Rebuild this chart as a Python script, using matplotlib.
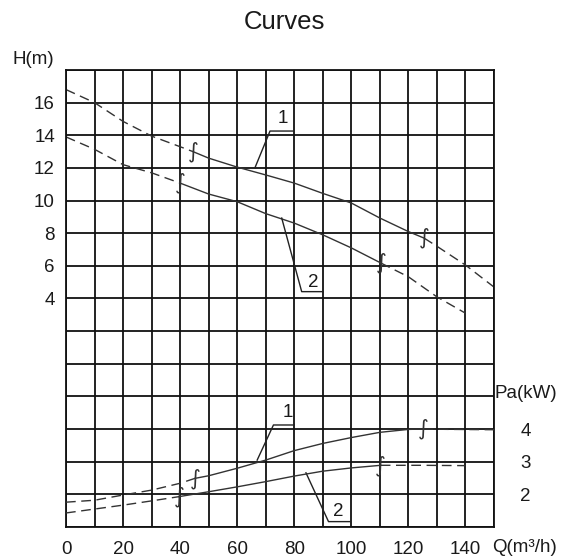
import matplotlib
matplotlib.use("Agg")
import matplotlib.pyplot as plt
import numpy as np

plt.rcParams['font.family'] = ['Liberation Sans', 'DejaVu Sans']

# ---------------- data ----------------
q_h1 = [0, 10, 20, 30, 40, 44.5, 50, 60, 70, 80, 90, 100, 110, 120, 125.5, 130, 140, 150]
h1 = [16.8, 16.0, 14.85, 13.95, 13.3, 13.0, 12.6, 12.05, 11.57, 11.07, 10.44, 9.85, 8.93, 8.1, 7.7, 7.2, 6.05, 4.7]
h1_solid = (44.5, 125.5)

q_h2 = [0, 10, 20, 30, 40, 50, 60, 70, 80, 90, 100, 110.4, 120, 130, 140]
h2 = [13.9, 13.14, 12.2, 11.7, 11.07, 10.4, 9.93, 9.2, 8.62, 7.9, 7.1, 6.17, 5.33, 4.1, 3.1]
h2_solid = (40, 110.4)

q_p1 = [0, 10, 20, 30, 40, 45.2, 50, 60, 70, 80, 90, 100, 110, 120, 125.3, 135, 150]
p1 = [1.76, 1.82, 1.98, 2.13, 2.34, 2.49, 2.57, 2.80, 3.05, 3.34, 3.56, 3.74, 3.9, 3.99, 4.0, 3.99, 3.98]
p1_solid = (45.2, 125.3)

q_p2 = [0, 10, 20, 30, 39.6, 50, 60, 70, 80, 90, 100, 110.3, 125, 140]
p2 = [1.43, 1.55, 1.67, 1.80, 1.93, 2.08, 2.23, 2.39, 2.56, 2.71, 2.81, 2.89, 2.89, 2.88]
p2_solid = (39.6, 110.3)

x_ticks = [0, 20, 40, 60, 80, 100, 120, 140]
h_ticks = [4, 6, 8, 10, 12, 14, 16]
p_ticks = [2, 3, 4]

# ---------------- figure ----------------
fig = plt.figure(figsize=(5.66, 5.59), dpi=100)
ax = fig.add_axes([66/566, 1-527/559, (494-66)/566, (527-70)/559])
ax.set_xlim(0, 150)
ax.set_ylim(-10, 18)

ax.set_xticks(range(0, 151, 10))
ax.set_xticklabels([str(v) if v in x_ticks else '' for v in range(0, 151, 10)])
ax.set_yticks(range(-10, 19, 2))
ax.set_yticklabels([str(v) if v in h_ticks else '' for v in range(-10, 19, 2)])
ax.tick_params(length=0, labelsize=13.5, colors='#1a1a1a')
ax.tick_params(axis='x', pad=10)
ax.tick_params(axis='y', pad=8)
ax.grid(True, color='#111111', lw=1.3)
for s in ax.spines.values():
    s.set_color('#111111')
    s.set_linewidth(1.3)
ax.set_axisbelow(True)

ax2 = ax.twinx()
ax2.set_ylim(1, 15)
ax2.set_yticks(p_ticks)
ax2.set_yticklabels([str(v) for v in p_ticks])
ax2.tick_params(length=0, labelsize=13.5, pad=19, colors='#1a1a1a')
for s in ax2.spines.values():
    s.set_visible(False)

col = '#333333'
dash = (0, (7, 4))


def draw(axis, q, v, solid):
    q = np.asarray(q, float)
    v = np.asarray(v, float)
    i0 = int(np.where(q == solid[0])[0][0])
    i1 = int(np.where(q == solid[1])[0][0])
    axis.plot(q[:i0+1], v[:i0+1], color=col, lw=1.0, ls=dash)
    axis.plot(q[i0:i1+1], v[i0:i1+1], color=col, lw=1.0)
    axis.plot(q[i1:], v[i1:], color=col, lw=1.0, ls=dash)
    for i in (i0, i1):
        axis.text(q[i], v[i], '∫', ha='center', va='center', fontsize=15,
                  color='#333333', family=['DejaVu Sans'])


draw(ax, q_h1, h1, h1_solid)
draw(ax, q_h2, h2, h2_solid)
draw(ax2, q_p1, p1, p1_solid)
draw(ax2, q_p2, p2, p2_solid)

# leader labels
def leader(pts, label, tpos):
    xs, ys = zip(*pts)
    ax.plot(xs, ys, color='#222222', lw=1.0)
    ax.text(tpos[0], tpos[1], label, ha='center', va='center', fontsize=13.5, color='#1a1a1a')


leader([(66.2, 12.0), (71.5, 14.26), (79.6, 14.26)], '1', (76, 15.05))
leader([(75.6, 8.93), (82.6, 4.42), (90, 4.42)], '2', (86.5, 5.0))
leader([(67.0, -5.9), (72.7, -3.75), (80, -3.75)], '1', (77.8, -3.0))
leader([(84.1, -6.68), (92, -9.67), (99.5, -9.67)], '2', (95.4, -9.06))

fig.text(284/566, 1-22/559, 'Curves', ha='center', va='center', fontsize=18.5, color='#1a1a1a')
fig.text(12/566, 1-60/559, 'H(m)', ha='left', va='center', fontsize=13.5, color='#1a1a1a')
fig.text(495/566, 1-393/559, 'Pa(kW)', ha='left', va='center', fontsize=13.5, color='#1a1a1a')
fig.text(492/566, 1-548/559, 'Q(m³/h)', ha='left', va='center', fontsize=13.5, color='#1a1a1a')

fig.savefig('out.png', dpi=100)
